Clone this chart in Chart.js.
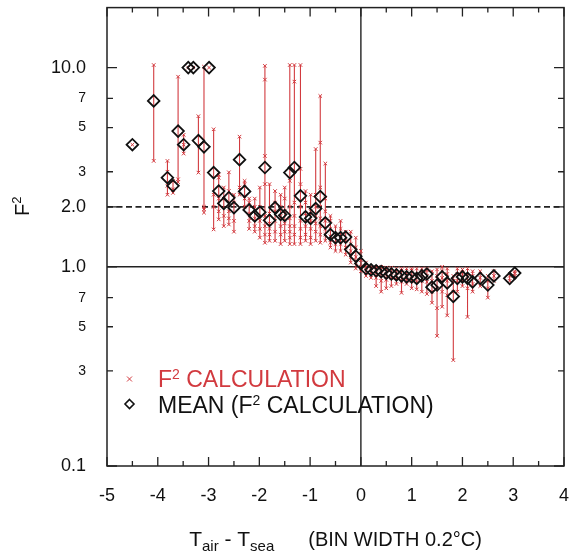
<!DOCTYPE html>
<html><head><meta charset="utf-8">
<script src="https://cdn.jsdelivr.net/npm/chart.js@4/dist/chart.umd.min.js"></script>
<style>html,body{margin:0;padding:0;background:#fff}canvas{display:block}</style>
</head><body>
<canvas id="c" width="573" height="553"></canvas>
<script>
// ---- data ----
const binX = [-4.50,-4.08,-3.81,-3.70,-3.60,-3.49,-3.40,-3.30,-3.20,-3.09,-2.99,-2.90,-2.80,-2.70,-2.60,-2.50,-2.39,-2.29,-2.20,-2.09,-1.99,-1.89,-1.80,-1.69,-1.58,-1.50,-1.40,-1.31,-1.19,-1.09,-0.99,-0.89,-0.80,-0.70,-0.60,-0.50,-0.40,-0.30,-0.20,-0.10,0.00,0.10,0.20,0.30,0.40,0.50,0.60,0.70,0.80,0.90,1.00,1.10,1.20,1.30,1.40,1.50,1.60,1.70,1.82,1.90,2.00,2.10,2.20,2.35,2.50,2.62,2.93,3.03];
const meanF2 = [4.1,6.8,2.8,2.55,4.8,4.1,10.0,10.0,4.3,4.0,10.0,2.97,2.4,2.08,2.22,1.98,3.45,2.39,1.93,1.8,1.88,3.15,1.71,1.98,1.83,1.81,2.97,3.15,2.27,1.78,1.75,1.96,2.25,1.66,1.45,1.40,1.40,1.41,1.22,1.13,1.04,0.98,0.965,0.955,0.945,0.93,0.92,0.91,0.90,0.89,0.89,0.875,0.90,0.92,0.79,0.81,0.89,0.83,0.71,0.875,0.89,0.875,0.84,0.875,0.81,0.90,0.875,0.93];
const calcF2 = [
 [4.1],[3.4,10.3],[2.3,2.55,3.0,3.4],[2.35,2.45,2.7],[2.66,2.75,9.0],[3.7,4.1,4.6],[10.0],[10.0],[2.97,5.7],[1.87,1.95,2.0,10.1],[10.0],
 [1.54,2.0,2.3,4.9],[1.73,1.9,2.2,2.8,2.9],[1.6,1.8,2.2,2.5],[1.63,1.75,1.9,2.4,2.98],[1.5,1.7,2.1,2.3],[2.3,2.5,4.5],[2.0,2.2,2.6,2.7],
 [1.55,1.7,1.85,2.1,2.2],[1.5,1.6,1.75,2.0,2.2],[1.4,1.55,1.7,2.0,2.5],[1.32,1.45,1.6,1.8,2.6,3.6,8.7,10.2],[1.35,1.45,1.55,1.65,1.85,2.6],
 [1.35,1.5,1.7,1.9,2.1,2.4],[1.3,1.45,1.6,1.8,2.0,2.3],[1.35,1.5,1.65,1.9,2.2,2.5],[1.3,1.4,1.5,1.6,1.75,2.0,2.7,10.3],[1.3,1.45,1.6,1.8,2.1,8.5,10.3],
 [1.3,1.4,1.55,1.7,2.0,2.6,3.1,10.3],[1.35,1.45,1.6,1.85,2.1,2.4],[1.3,1.4,1.55,1.7,1.9,2.3],[1.35,1.5,1.65,1.8,2.0,2.3,3.9],[1.32,1.45,1.6,1.75,2.0,2.5,4.2,7.2],
 [1.35,1.45,1.55,1.7,1.9,2.2,3.3],[1.25,1.32,1.42,1.55,1.7,1.8],[1.2,1.3,1.45,1.6],[1.2,1.3,1.4,1.55,1.7],[1.15,1.25,1.35,1.5],[1.05,1.12,1.2,1.3,1.5],
 [0.98,1.05,1.12,1.25,1.4],[0.95,1.0,1.08,1.2],[0.9,0.95,1.0,1.05],[0.88,0.93,0.98,1.0],[0.8,0.88,0.93,0.98,1.0],[0.75,0.85,0.92,0.97,1.0],
 [0.78,0.86,0.92,0.97,0.99],[0.8,0.88,0.93,0.99],[0.82,0.88,0.93,0.98],[0.74,0.84,0.9,0.96,0.98],[0.82,0.87,0.92,0.98],[0.78,0.85,0.9,0.96,0.98],
 [0.77,0.84,0.9,0.98],[0.75,0.85,0.92,0.98],[0.73,0.84,0.9,0.96,0.98],[0.66,0.75,0.85,0.95],[0.45,0.62,0.78,0.9,0.97],[0.63,0.75,0.88,0.95,1.0],
 [0.57,0.72,0.85,0.92,0.98],[0.34,0.75,0.85,0.9],[0.75,0.85,0.92,0.98],[0.8,0.88,0.93,0.97],[0.56,0.78,0.9,0.98],[0.75,0.82,0.9,0.95],
 [0.8,0.88,0.95],[0.7,0.78,0.85,0.9],[0.85,0.9,0.95],[0.85,0.9],[0.9,0.93,0.95]
];
const xRange = [-5, 4];
const yRange = [0.1, 20];
const xTickValues = [-5,-4,-3,-2,-1,0,1,2,3,4];
const yTickValues = [0.1,0.3,0.5,0.7,1,2,3,5,7,10];
const yTickLabels = ['0.1','3','5','7','1.0','2.0','3','5','7','10.0'];
const yMajorTicks = [0.1,1,2,10];
const dashedLevel = [2];
const solidLevel = [1];
const zeroLine = [0];

const RED = '#d23a3f';
const FONT = "'Liberation Sans', Arial, Helvetica, sans-serif";

const meanPts = binX.map((x,i)=>({x, y: meanF2[i]}));
const calcPts = binX.flatMap((x,i)=>calcF2[i].map(v=>({x, y:v})));
const barPts = binX.flatMap((x,i)=>calcF2[i].length>1 ? [{x, y:Math.min(...calcF2[i])},{x, y:Math.max(...calcF2[i])},{x, y:null}] : []);

function drawSup(ctx, parts, x, y) {
  let cx = x;
  parts.forEach(p=>{ ctx.font = p[1] + 'px ' + FONT; ctx.fillText(p[0], cx, y - p[2]); cx += ctx.measureText(p[0]).width; });
  return cx;
}

const decor = {
  id:'decor',
  afterDraw(chart){
    const {ctx, chartArea:a, scales:{x, y}} = chart;
    ctx.save();
    ctx.strokeStyle = '#222';
    ctx.lineWidth = 1.5;
    ctx.strokeRect(a.left, a.top, a.right-a.left, a.bottom-a.top);
    ctx.lineWidth = 1.3;
    ctx.beginPath();
    for (let k = xRange[0]*2; k <= xRange[1]*2; k++) {
      const v = k/2, px = x.getPixelForValue(v), len = (k%2===0) ? 9 : 5;
      ctx.moveTo(px, a.bottom); ctx.lineTo(px, a.bottom-len);
      ctx.moveTo(px, a.top); ctx.lineTo(px, a.top+len);
    }
    yTickValues.forEach(v=>{
      const py = y.getPixelForValue(v), len = yMajorTicks.includes(v) ? 10 : 6;
      ctx.moveTo(a.left, py); ctx.lineTo(a.left+len, py);
      ctx.moveTo(a.right, py); ctx.lineTo(a.right-len, py);
    });
    ctx.stroke();

    // legend
    ctx.strokeStyle = RED; ctx.lineWidth = 1;
    ctx.beginPath();
    ctx.moveTo(127, 376.5); ctx.lineTo(132, 381.5);
    ctx.moveTo(132, 376.5); ctx.lineTo(127, 381.5);
    ctx.stroke();
    ctx.strokeStyle = '#111'; ctx.lineWidth = 1.6;
    ctx.beginPath();
    ctx.moveTo(129.5, 399.5); ctx.lineTo(134, 404); ctx.lineTo(129.5, 408.5); ctx.lineTo(125, 404); ctx.closePath();
    ctx.stroke();
    ctx.textBaseline = 'alphabetic'; ctx.textAlign = 'left';
    ctx.fillStyle = RED;
    drawSup(ctx, [['F',23,0],['2',14,8],[' CALCULATION',23,0]], 158, 387);
    ctx.fillStyle = '#111';
    drawSup(ctx, [['MEAN (F',23,0],['2',14,8],[' CALCULATION)',23,0]], 158, 413);

    // y title
    ctx.save();
    ctx.translate(29, 216);
    ctx.rotate(-Math.PI/2);
    ctx.fillStyle = '#111';
    drawSup(ctx, [['F',20,0],['2',13,8]], 0, 0);
    ctx.restore();

    // x title
    const pieces = [['T',21,0,0], ['air',15,-5,0], [' - ',21,0,0], ['T',21,0,0], ['sea',15,-5,34], ['(BIN WIDTH 0.2°C)',20,0,0]];
    let tot = 0;
    pieces.forEach(p=>{ ctx.font = p[1]+'px '+FONT; tot += ctx.measureText(p[0]).width + p[3]; });
    let cx = (a.left + a.right)/2 - tot/2;
    ctx.fillStyle = '#111';
    pieces.forEach(p=>{ ctx.font = p[1]+'px '+FONT; ctx.fillText(p[0], cx, 546 - p[2]); cx += ctx.measureText(p[0]).width + p[3]; });
    ctx.restore();
  }
};

new Chart(document.getElementById('c'), {
  type: 'scatter',
  data: { datasets: [
    { label:'mean', data: meanPts, pointStyle:'rectRot', pointRadius:5.8, borderColor:'#111', borderWidth:1.8, backgroundColor:'rgba(0,0,0,0)', showLine:false, order:0 },
    { label:'calc', data: calcPts, pointStyle:'crossRot', pointRadius:2.5, borderColor:RED, borderWidth:1, showLine:false, order:1 },
    { label:'bars', data: barPts, showLine:true, spanGaps:false, pointRadius:0, borderColor:RED, borderWidth:1.1, order:2 },
    { label:'two', data: [{x:xRange[0], y:dashedLevel[0]},{x:xRange[1], y:dashedLevel[0]}], showLine:true, pointRadius:0, borderColor:'#222', borderWidth:1.8, borderDash:[6,3.5], order:3 },
    { label:'one', data: [{x:xRange[0], y:solidLevel[0]},{x:xRange[1], y:solidLevel[0]}], showLine:true, pointRadius:0, borderColor:'#222', borderWidth:1.4, order:3 },
    { label:'zero', data: [{x:zeroLine[0], y:yRange[0]},{x:zeroLine[0], y:yRange[1]}], showLine:true, pointRadius:0, borderColor:'#222', borderWidth:1.4, order:3 }
  ]},
  options: {
    responsive:false, animation:false, devicePixelRatio:1, events:[],
    layout:{ padding:{ left:0, right:9, top:7, bottom:0 } },
    plugins:{ legend:{display:false}, tooltip:{enabled:false} },
    scales:{
      x:{ type:'linear', min:xRange[0], max:xRange[1],
          grid:{ display:false, drawTicks:false }, border:{display:false},
          afterBuildTicks(s){ s.ticks = xTickValues.map(v=>({value:v})); },
          afterFit(s){ s.height = 87; s.paddingLeft = 0; s.paddingRight = 0; s.paddingTop = 0; s.paddingBottom = 0; },
          ticks:{ autoSkip:false, maxRotation:0, padding:19, color:'#111', font:{ family:FONT, size:18 }, callback:(v)=>String(v) } },
      y:{ type:'logarithmic', min:yRange[0], max:yRange[1],
          grid:{ display:false, drawTicks:false }, border:{display:false},
          afterBuildTicks(s){ s.ticks = yTickValues.map(v=>({value:v})); },
          afterFit(s){ s.width = 107; s.paddingLeft = 0; s.paddingRight = 0; s.paddingTop = 0; s.paddingBottom = 0; },
          ticks:{ autoSkip:false, padding:21, color:'#111',
                  font:(c)=>({ family:FONT, size: (c.tick && yMajorTicks.includes(c.tick.value)) ? 18 : 14 }),
                  callback:(v)=>{ const i = yTickValues.indexOf(v); return i>=0 ? yTickLabels[i] : ''; } } }
    }
  },
  plugins:[decor]
});
</script>
</body></html>
